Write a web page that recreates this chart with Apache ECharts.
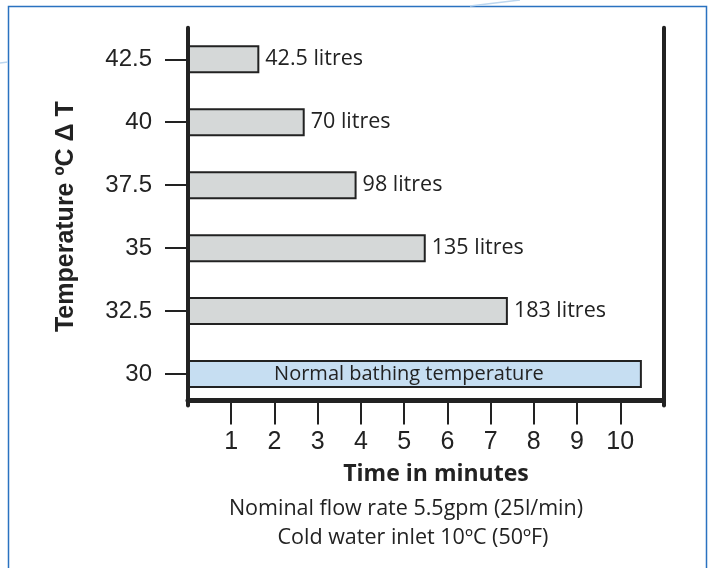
<!DOCTYPE html>
<html>
<head>
<meta charset="utf-8">
<script src="https://cdn.jsdelivr.net/npm/echarts@6/dist/echarts.min.js"></script>
<style>html,body{margin:0;padding:0;background:#fff;}#c{width:713px;height:568px;}</style>
</head>
<body>
<div id="c"></div>
<script>
// ---- data ----
var temperatures = ['30', '32.5', '35', '37.5', '40', '42.5'];
var minutes = [10.5, 7.4, 5.5, 3.9, 2.7, 1.65];
var barLabels = ['Normal bathing temperature', '183 litres', '135 litres', '98 litres', '70 litres', '42.5 litres'];
var timeTicks = [1, 2, 3, 4, 5, 6, 7, 8, 9, 10];
var yTitle = 'Temperature ºC Δ T';
var xTitle = 'Time in minutes';
var notes = ['Nominal flow rate 5.5gpm (25l/min)', 'Cold water inlet 10ºC (50ºF)'];

var chart = echarts.init(document.getElementById('c'), null, {renderer: 'canvas'});
var ink = '#222222';
var seriesData = minutes.map(function (v, i) {
  var item = {value: v, label: {formatter: barLabels[i]}};
  if (i === 0) {
    item.itemStyle = {color: '#c6def2'};
    item.label = {formatter: barLabels[i], position: 'inside', offset: [-6, 0], fontSize: 20};
  }
  return item;
});

chart.setOption({
  animation: false,
  backgroundColor: '#ffffff',
  grid: {left: 188, top: 27.8, width: 475.5, height: 377.7, containLabel: false},
  xAxis: {
    type: 'value', min: 0, max: 11, interval: 1, offset: -5,
    axisLine: {show: true, lineStyle: {color: ink, width: 5}},
    axisTick: {show: true, length: 24, customValues: timeTicks, lineStyle: {color: ink, width: 2}},
    axisLabel: {customValues: timeTicks, margin: 29, fontFamily: 'Liberation Sans', fontSize: 25, color: ink},
    splitLine: {show: false}
  },
  yAxis: [{
    type: 'category', data: temperatures, position: 'left',
    axisLine: {show: true, lineStyle: {color: ink, width: 4}},
    axisTick: {show: true, inside: false, length: 23, alignWithLabel: true, lineStyle: {color: ink, width: 2}},
    axisLabel: {margin: 36, fontFamily: 'Liberation Sans', fontSize: 24, color: ink},
    name: yTitle, nameLocation: 'middle', nameGap: 109,
    nameTextStyle: {fontFamily: 'Liberation Sans', fontWeight: 'bold', fontSize: 25, color: ink}
  }, {
    type: 'category', data: temperatures, position: 'right',
    axisLine: {show: true, lineStyle: {color: ink, width: 4}},
    axisTick: {show: false}, axisLabel: {show: false}
  }],
  series: [{
    type: 'bar', yAxisIndex: 0, data: seriesData, barWidth: 28,
    itemStyle: {color: '#d5d8d8', borderColor: ink, borderWidth: 2},
    label: {show: true, position: 'right', distance: 6, fontFamily: 'Open Sans', fontSize: 21.5, color: ink}
  }],
  graphic: [
    {type: 'rect', shape: {x: 8.5, y: 6.5, width: 698, height: 620}, style: {fill: 'none', stroke: '#2a72c0', lineWidth: 1.5}, silent: true, z: -1},
    {type: 'polyline', shape: {points: [[470, 6], [495, 3], [520, 0]]}, style: {stroke: '#bcd6ef', lineWidth: 1.5, fill: 'none'}, silent: true},
    {type: 'polyline', shape: {points: [[0, 63], [8, 62]]}, style: {stroke: '#bcd6ef', lineWidth: 1.5, fill: 'none'}, silent: true},
    {type: 'text', x: 436, y: 474, style: {text: xTitle, fontFamily: 'Open Sans', fontWeight: 'bold', fontSize: 23, fill: ink, align: 'center', verticalAlign: 'middle'}},
    {type: 'text', x: 406, y: 509, style: {text: notes[0], fontFamily: 'Open Sans', fontSize: 21.5, fill: ink, align: 'center', verticalAlign: 'middle'}},
    {type: 'text', x: 413, y: 538, style: {text: notes[1], fontFamily: 'Open Sans', fontSize: 21.5, fill: ink, align: 'center', verticalAlign: 'middle'}}
  ]
});
</script>
</body>
</html>
